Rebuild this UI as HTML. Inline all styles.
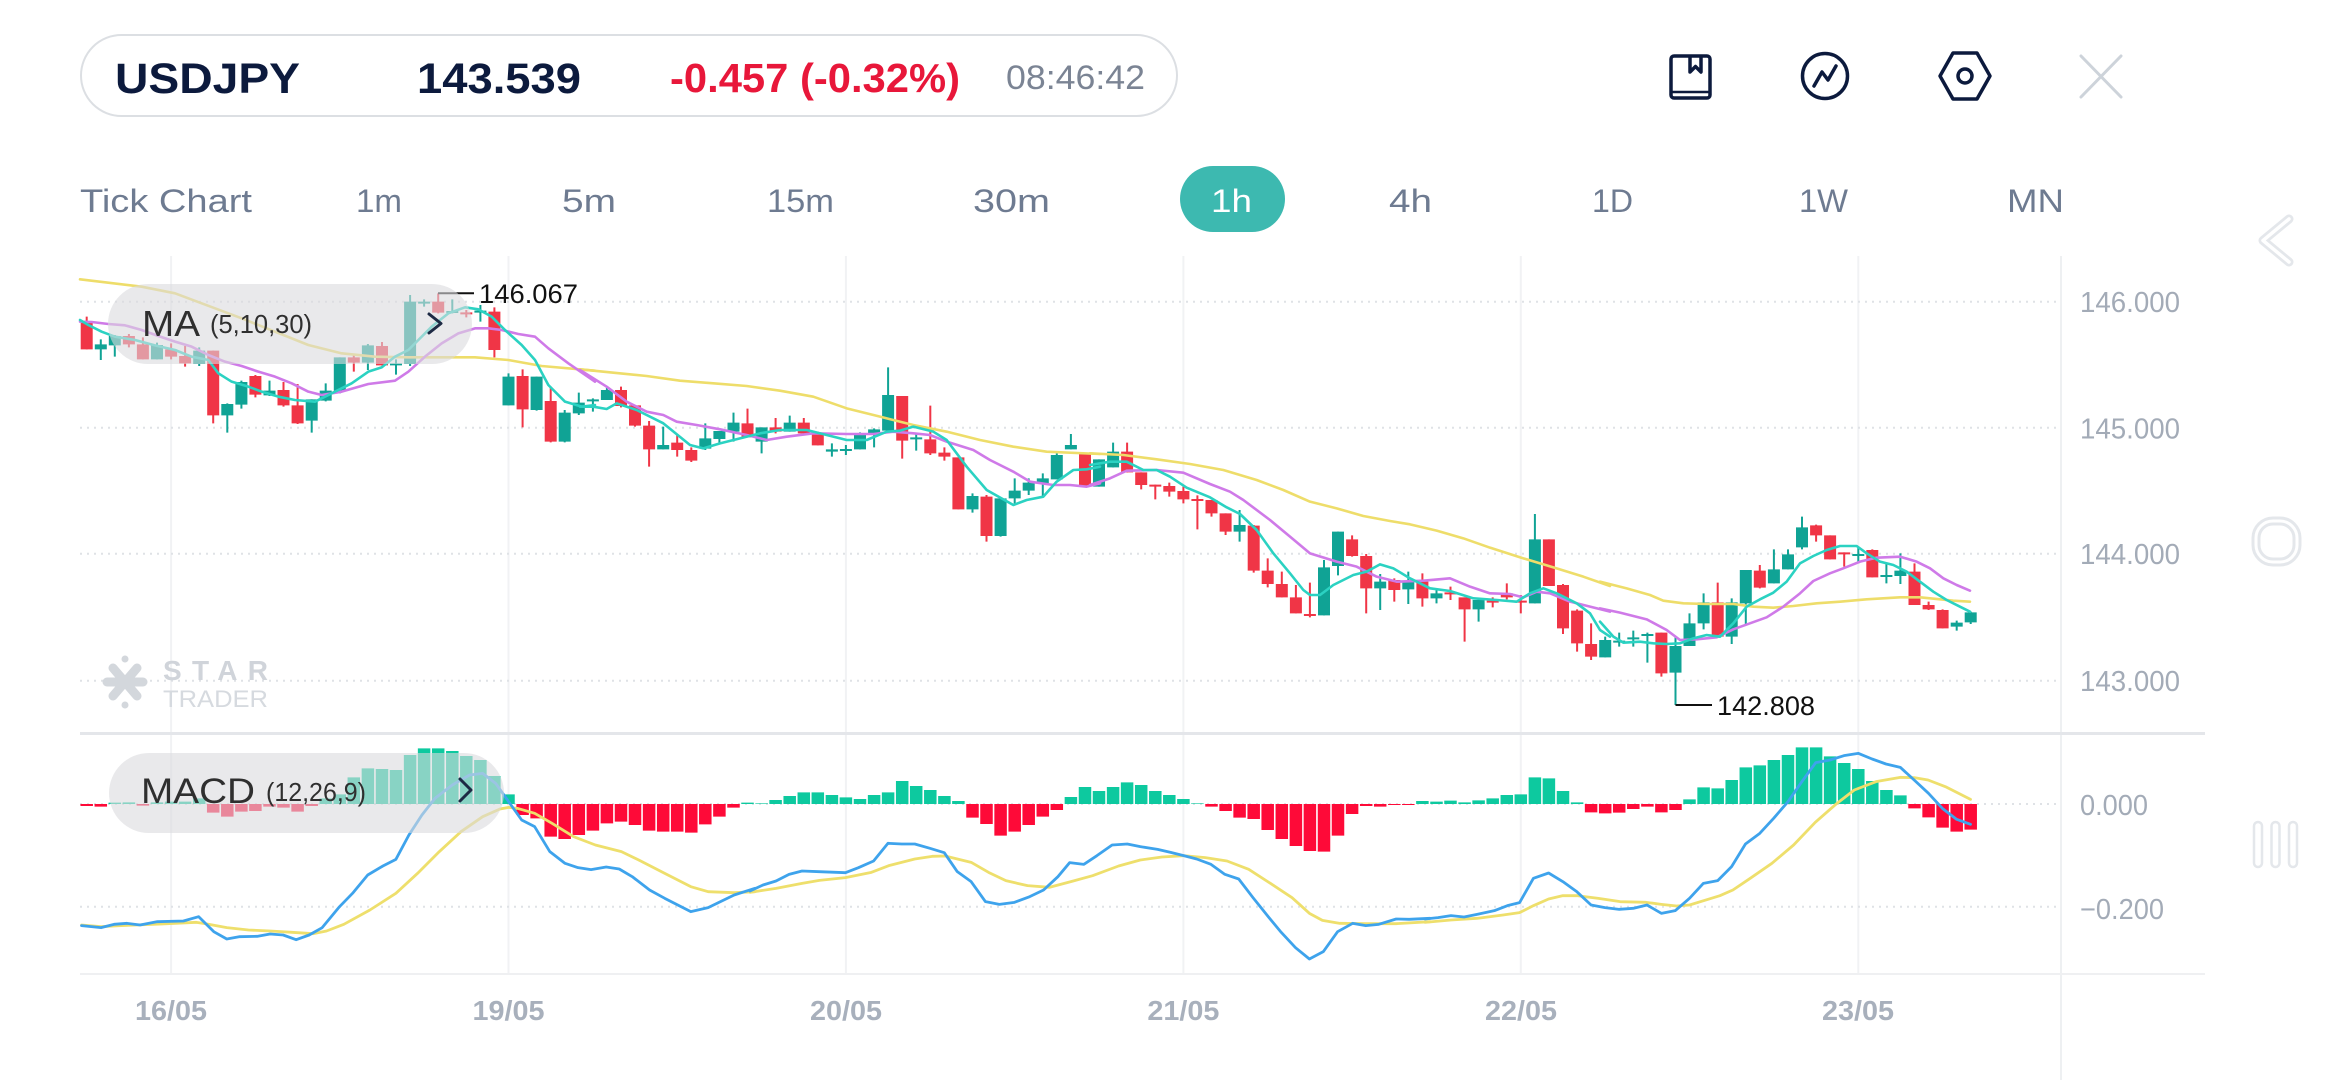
<!DOCTYPE html>
<html>
<head>
<meta charset="utf-8">
<style>
html,body{margin:0;padding:0;background:#fff;}
body{width:2340px;height:1080px;overflow:hidden;}
svg{display:block;font-family:"Liberation Sans",Arial,sans-serif;}
.ns{vector-effect:non-scaling-stroke;}
</style>
</head>
<body>
<svg width="2340" height="1080" viewBox="0 0 2340 1080" xmlns="http://www.w3.org/2000/svg">
<rect width="2340" height="1080" fill="#fff"/>

<!-- Header pill -->
<rect x="81" y="35" width="1096" height="81" rx="40.5" fill="#fff" stroke="#dcdfe3" stroke-width="2"/>
<text x="115" y="93" font-size="43" font-weight="bold" fill="#0c1a3d" textLength="185" lengthAdjust="spacingAndGlyphs">USDJPY</text>
<text x="417" y="93" font-size="43" font-weight="bold" fill="#0c1a3d" textLength="164" lengthAdjust="spacingAndGlyphs">143.539</text>
<text x="670" y="92" font-size="41" font-weight="bold" fill="#e8173a" textLength="290" lengthAdjust="spacingAndGlyphs">-0.457 (-0.32%)</text>
<text x="1006" y="89" font-size="34" fill="#7b8494" textLength="139" lengthAdjust="spacingAndGlyphs">08:46:42</text>

<!-- Top icons -->
<g fill="none" stroke="#0c1a3d" stroke-width="3.5" stroke-linejoin="round" stroke-linecap="round">
  <rect x="1671" y="56" width="39" height="42" rx="3"/>
  <path d="M1690 57V72L1695.5 66.5L1701 72V57"/>
  <line x1="1672" y1="92" x2="1709" y2="92" stroke-width="2.5"/>
  <circle cx="1825" cy="76" r="22.5"/>
  <path d="M1814 86L1822 72L1828 80L1836 66"/>
  <path d="M1940 76L1953 53H1977L1990 76L1977 99H1953Z"/>
  <circle cx="1965" cy="76" r="7"/>
</g>
<g stroke="#cdd3da" stroke-width="3" stroke-linecap="round">
  <line x1="2081" y1="56" x2="2121" y2="97"/>
  <line x1="2121" y1="56" x2="2081" y2="97"/>
</g>

<!-- Timeframe row -->
<g font-size="32.5" fill="#6e7b91">
  <text x="80" y="212" textLength="172" lengthAdjust="spacingAndGlyphs">Tick Chart</text>
  <text x="356" y="212" textLength="46" lengthAdjust="spacingAndGlyphs">1m</text>
  <text x="562" y="212" textLength="54" lengthAdjust="spacingAndGlyphs">5m</text>
  <text x="767" y="212" textLength="67" lengthAdjust="spacingAndGlyphs">15m</text>
  <text x="973" y="212" textLength="77" lengthAdjust="spacingAndGlyphs">30m</text>
  <rect x="1180" y="166" width="105" height="66" rx="33" fill="#3db9b0"/>
  <text x="1211" y="212" fill="#ffffff" textLength="41" lengthAdjust="spacingAndGlyphs">1h</text>
  <text x="1389" y="212" textLength="43" lengthAdjust="spacingAndGlyphs">4h</text>
  <text x="1592" y="212" textLength="41" lengthAdjust="spacingAndGlyphs">1D</text>
  <text x="1799" y="212" textLength="49" lengthAdjust="spacingAndGlyphs">1W</text>
  <text x="2007" y="212" textLength="57" lengthAdjust="spacingAndGlyphs">MN</text>
</g>

<!-- Right side faint icons -->
<g fill="none" stroke-linecap="round" stroke-linejoin="round">
  <path d="M2289 219L2263 240.5L2289 262" stroke="#e4e7eb" stroke-width="9"/>
  <path d="M2289 219L2263 240.5L2289 262" stroke="#fff" stroke-width="3.5"/>
  <rect x="2253" y="518" width="47" height="47" rx="20" stroke="#e4e7eb" stroke-width="3"/>
  <rect x="2259" y="524" width="35" height="35" rx="14" stroke="#e4e7eb" stroke-width="3"/>
  <rect x="2254" y="822" width="8" height="45" rx="4" stroke="#e4e7eb" stroke-width="2.5"/>
  <rect x="2271.5" y="822" width="8" height="45" rx="4" stroke="#e4e7eb" stroke-width="2.5"/>
  <rect x="2289" y="822" width="8" height="45" rx="4" stroke="#e4e7eb" stroke-width="2.5"/>
</g>

<!-- Grid -->
<g stroke="#f1f2f4" stroke-width="2">
  <line x1="171.1" y1="256" x2="171.1" y2="974"/>
  <line x1="508.5" y1="256" x2="508.5" y2="974"/>
  <line x1="845.9" y1="256" x2="845.9" y2="974"/>
  <line x1="1183.4" y1="256" x2="1183.4" y2="974"/>
  <line x1="1520.8" y1="256" x2="1520.8" y2="974"/>
  <line x1="1858.3" y1="256" x2="1858.3" y2="974"/>
</g>
<line x1="2061" y1="256" x2="2061" y2="1080" stroke="#eef0f2" stroke-width="2"/>
<g stroke="#dfe2e6" stroke-width="2" stroke-dasharray="2 5">
  <line x1="80" y1="301.7" x2="2060" y2="301.7"/>
  <line x1="80" y1="427.7" x2="2060" y2="427.7"/>
  <line x1="80" y1="553.7" x2="2060" y2="553.7"/>
  <line x1="80" y1="680.7" x2="2060" y2="680.7"/>
  <line x1="80" y1="804" x2="2060" y2="804"/>
  <line x1="80" y1="906.7" x2="2060" y2="906.7"/>
</g>
<line x1="80" y1="733.5" x2="2205" y2="733.5" stroke="#e4e6ea" stroke-width="3"/>
<line x1="80" y1="974" x2="2205" y2="974" stroke="#eff0f2" stroke-width="2"/>

<!-- Y labels -->
<g font-size="29" fill="#a3abb7">
  <text x="2080" y="312" textLength="100" lengthAdjust="spacingAndGlyphs">146.000</text>
  <text x="2080" y="438.5" textLength="100" lengthAdjust="spacingAndGlyphs">145.000</text>
  <text x="2080" y="564" textLength="100" lengthAdjust="spacingAndGlyphs">144.000</text>
  <text x="2080" y="691" textLength="100" lengthAdjust="spacingAndGlyphs">143.000</text>
  <text x="2080" y="815" textLength="68" lengthAdjust="spacingAndGlyphs">0.000</text>
  <text x="2080" y="919" textLength="84" lengthAdjust="spacingAndGlyphs">−0.200</text>
</g>

<!-- X labels -->
<g font-size="28" font-weight="bold" fill="#a8b0bc" text-anchor="middle">
  <text x="171" y="1020" textLength="72" lengthAdjust="spacingAndGlyphs">16/05</text>
  <text x="508.5" y="1020" textLength="72" lengthAdjust="spacingAndGlyphs">19/05</text>
  <text x="846" y="1020" textLength="72" lengthAdjust="spacingAndGlyphs">20/05</text>
  <text x="1183.4" y="1020" textLength="72" lengthAdjust="spacingAndGlyphs">21/05</text>
  <text x="1521" y="1020" textLength="72" lengthAdjust="spacingAndGlyphs">22/05</text>
  <text x="1858" y="1020" textLength="72" lengthAdjust="spacingAndGlyphs">23/05</text>
</g>

<!-- Watermark -->
<g stroke="#d3d7dc" stroke-width="9" stroke-linecap="round">
  <line x1="107" y1="682" x2="143" y2="682"/>
  <line x1="113" y1="668" x2="137" y2="696"/>
  <line x1="137" y1="668" x2="113" y2="696"/>
</g>
<circle cx="125" cy="659" r="3.5" fill="#d3d7dc"/>
<circle cx="125" cy="705" r="3.5" fill="#d3d7dc"/>
<text x="163" y="680" font-size="28" font-weight="bold" fill="#d0d4da" textLength="105" lengthAdjust="spacing">STAR</text>
<text x="163" y="707" font-size="24" fill="#d6dadf" textLength="105" lengthAdjust="spacingAndGlyphs">TRADER</text>

<!-- Candles -->
<g transform="translate(86.7,260) scale(1,0.333333)" fill="none">
  <path class="ns" stroke="#f03546" stroke-width="2" d="M0 170V268M42.2 222V262M56.2 232V298M84.4 250V298M98.4 258V320M126.5 272V490M168.7 345V412M196.8 366V440M210.9 372V492M267.1 282V335M295.3 246V316M351.5 100V160M379.6 150V172M407.7 142V292M435.9 328V502M464 380V547M534.3 380V442M548.3 436V500M562.4 483V620M590.5 525V590M604.6 562V606M660.8 446V532M688.9 474V520M717.1 474V520M731.1 515V556M815.5 408V596M843.6 437V585M857.7 562V602M871.7 592V748M899.8 705V845M998.3 578V682M1040.4 548V637M1054.5 637V688M1068.6 674V718M1082.6 668V710M1096.7 680V730M1110.7 706V808M1124.8 720V770M1138.9 760V825M1167 795V938M1181 895V982M1195.1 935V1012M1209.2 975V1060M1223.2 968V1072M1265.4 826V890M1279.5 882V1060M1307.6 955V1025M1335.7 940V1040M1363.8 980V1020M1377.9 1012V1145M1406 1012V1042M1420.1 970V1018M1434.1 1005V1060M1462.2 838V978M1476.3 972V1122M1490.4 1048V1175M1504.4 1090V1200M1574.7 1118V1250M1631 968V1130M1673.1 915V985M1729.4 794V845M1743.4 826V898M1757.5 877V920M1785.6 868V952M1827.8 910V1035M1841.9 1025V1050M1855.9 1048V1105"/>
  <path class="ns" stroke="#f03546" stroke-width="12" d="M0 185V268M42.2 228V253M56.2 253V298M84.4 268V290M98.4 288V310M126.5 272V466M168.7 348V404M196.8 390V436M210.9 436V490M267.1 292V308M295.3 258V316M351.5 125V158M379.6 157V163M407.7 155V270M435.9 348V448M464 423V545M534.3 390V438M548.3 436V497M562.4 497V568M590.5 548V570M604.6 570V602M660.8 490V532M688.9 502V515M717.1 488V520M731.1 518V556M815.5 408V542M843.6 538V580M857.7 578V590M871.7 592V748M899.8 710V828M998.3 578V680M1040.4 575V637M1054.5 637V675M1068.6 674V680M1082.6 678V695M1096.7 693V718M1110.7 717V723M1124.8 720V760M1138.9 760V815M1167 797V932M1181 932V972M1195.1 972V1012M1209.2 1012V1060M1223.2 1062V1068M1265.4 838V888M1279.5 888V985M1307.6 960V990M1335.7 965V1015M1363.8 997V1003M1377.9 1012V1048M1406 1022V1028M1420.1 1000V1012M1434.1 1022V1028M1462.2 838V978M1476.3 975V1105M1490.4 1052V1150M1504.4 1152V1190M1574.7 1118V1240M1631 1027V1130M1673.1 932V983M1729.4 796V826M1743.4 826V898M1757.5 877V883M1785.6 870V952M1827.8 935V1035M1841.9 1035V1048M1855.9 1050V1105"/>
  <path class="ns" stroke="#10a395" stroke-width="2" d="M14.1 238V300M28.1 225V290M70.3 248V298M112.5 262V318M140.6 430V518M154.7 362V446M182.8 362V408M225 418V518M239 370V424M253.1 292V400M281.2 252V330M309.3 298V344M323.4 105V318M337.4 118V140M365.6 118V160M393.7 135V185M421.8 340V436M449.9 350V452M478 450V547M492.1 398V465M506.2 415V455M520.2 378V420M576.5 500V568M618.6 490V570M632.7 513V552M646.8 458V545M674.9 502V580M703 467V515M745.2 550V590M759.2 555V585M773.3 517V568M787.4 505V562M801.4 322V512M829.5 520V572M885.8 700V758M913.9 715V830M928 655V735M942 655V705M956.1 640V708M970.1 580V658M984.2 522V568M1012.3 598V680M1026.4 548V622M1152.9 750V845M1237.3 900V1066M1251.3 815V946M1293.5 942V1050M1321.6 935V1032M1349.8 985V1030M1391.9 1015V1085M1448.2 762V1030M1518.5 1130V1192M1532.5 1118V1160M1546.6 1112V1160M1560.7 1118V1208M1588.8 1132V1335M1602.8 1060V1158M1616.9 1000V1108M1645 1015V1152M1659.1 930V1095M1687.2 868V970M1701.3 868V928M1715.3 770V868M1771.6 860V910M1799.7 912V970M1813.7 880V972M1870 1082V1112M1884 1055V1092"/>
  <path class="ns" stroke="#10a395" stroke-width="12" d="M14.1 253V268M28.1 228V256M70.3 255V298M112.5 272V312M140.6 432V466M154.7 366V434M182.8 392V406M225 418V482M239 392V422M253.1 292V392M281.2 256V308M309.3 310V316M323.4 125V312M337.4 125V131M365.6 153V159M393.7 152V158M421.8 350V436M449.9 350V450M478 458V545M492.1 428V460M506.2 418V424M520.2 390V420M576.5 555V568M618.6 535V566M632.7 513V537M646.8 488V515M674.9 502V545M703 488V515M745.2 568V575M759.2 567V573M773.3 522V568M787.4 508V525M801.4 405V512M829.5 532V538M885.8 708V748M913.9 715V828M928 692V715M942 668V692M956.1 655V670M970.1 585V658M984.2 555V568M1012.3 598V680M1026.4 575V622M1152.9 795V815M1237.3 922V1066M1251.3 815V918M1293.5 965V985M1321.6 965V988M1349.8 1000V1015M1391.9 1020V1048M1448.2 838V1030M1518.5 1140V1192M1532.5 1142V1148M1546.6 1132V1138M1560.7 1122V1128M1588.8 1158V1238M1602.8 1090V1158M1616.9 1027V1090M1645 1027V1130M1659.1 930V1030M1687.2 928V970M1701.3 883V928M1715.3 802V862M1771.6 882V888M1799.7 945V951M1813.7 932V948M1870 1088V1100M1884 1057V1087"/>
</g>

<!-- MA lines -->
<g fill="none" stroke-linejoin="round" stroke-linecap="round">
  <g transform="translate(75,260) scale(0.333333)">
    <polyline class="ns" stroke="#eedd6a" stroke-width="2.6" points="15,58 200,80 300,100 380,130 500,175 600,215 700,255 800,280 900,290 1000,292 1100,292 1200,292 1300,300 1400,318 1560,332"/>
    <polyline class="ns" stroke="#cf7ae8" stroke-width="2.6" points="15,185 50,186 100,192 150,196 200,210 250,228 300,245 350,260 400,285 450,305 500,318 550,335 600,350 650,370 700,395 740,405 800,395 880,372 960,362 1000,335 1050,290 1100,250 1150,220 1200,205 1240,205 1280,210 1330,222 1380,230 1420,265 1480,310 1560,365"/>
    <polyline class="ns" stroke="#2bd2c2" stroke-width="2.6" points="15,180 40,195 80,215 120,230 180,240 240,256 300,270 350,290 400,300 430,340 470,365 520,380 560,395 610,410 660,420 720,425 770,400 830,370 880,335 920,322 960,290 1000,270 1030,240 1070,200 1120,160 1170,142 1210,148 1250,170 1290,210 1340,255 1380,300 1420,375 1470,425 1520,440 1560,435"/>
  </g>
  <g transform="translate(580,260) scale(0.333333)">
    <polyline class="ns" stroke="#eedd6a" stroke-width="2.6" points="0,328 100,338 200,348 300,362 400,370 500,378 600,392 700,410 800,445 900,470 1000,495 1100,515 1200,540 1300,560 1400,575 1560,582"/>
    <polyline class="ns" stroke="#cf7ae8" stroke-width="2.6" points="0,330 80,380 140,425 200,455 250,465 290,485 350,495 420,508 500,525 560,540 620,530 700,520 800,522 880,522 940,515 1000,520 1050,525 1100,545 1180,570 1230,600 1300,635 1350,665 1420,675 1470,675 1520,680 1560,670"/>
    <polyline class="ns" stroke="#2bd2c2" stroke-width="2.6" points="0,440 40,440 80,447 110,430 170,450 250,490 330,555 370,565 420,550 480,535 540,520 600,510 680,510 740,525 800,540 860,540 920,515 960,512 1000,500 1060,515 1100,540 1160,620 1220,690 1300,735 1340,720 1390,710 1430,665 1480,630 1520,628 1560,620"/>
  </g>
  <g transform="translate(1090,260) scale(0.333333)">
    <polyline class="ns" stroke="#eedd6a" stroke-width="2.6" points="0,580 100,585 200,598 300,612 400,630 500,660 580,690 660,725 740,745 820,768 900,783 960,793 1040,812 1120,835 1200,863 1300,895 1400,925 1480,950 1560,978"/>
    <polyline class="ns" stroke="#cf7ae8" stroke-width="2.6" points="0,675 60,655 110,632 200,630 280,638 360,672 420,695 460,720 540,780 600,830 660,880 740,905 800,920 860,950 920,965 1000,962 1080,955 1140,980 1200,1000 1260,1002 1300,1012 1340,995 1380,1000 1440,1025 1500,1040 1560,1055"/>
    <polyline class="ns" stroke="#2bd2c2" stroke-width="2.6" points="0,615 60,605 110,605 160,630 200,630 240,650 290,683 360,712 410,742 450,762 500,810 550,880 600,940 640,990 660,1005 690,1005 730,975 790,945 830,935 870,913 910,925 960,955 1020,985 1080,993 1150,1015 1220,1020 1280,1025 1320,1000 1360,985 1400,1000 1460,1030 1500,1060 1530,1110 1560,1130"/>
  </g>
  <g transform="translate(1600,260) scale(0.333333)">
    <polyline class="ns" stroke="#eedd6a" stroke-width="2.6" points="0,965 80,985 150,1005 190,1022 250,1030 320,1032 400,1032 460,1040 520,1043 580,1038 650,1030 720,1025 800,1018 900,1012 960,1012 1020,1018 1060,1022 1110,1025"/>
    <polyline class="ns" stroke="#cf7ae8" stroke-width="2.6" points="0,1045 60,1058 140,1078 200,1110 240,1140 290,1138 350,1132 400,1108 450,1090 500,1072 550,1040 600,1000 640,963 690,940 730,925 780,905 830,893 900,890 950,905 990,925 1030,955 1070,975 1110,992"/>
    <polyline class="ns" stroke="#2bd2c2" stroke-width="2.6" points="0,1085 40,1130 70,1148 120,1145 160,1150 200,1152 240,1150 280,1135 320,1125 360,1130 400,1090 440,1040 480,1018 520,998 560,965 600,910 640,888 680,870 720,858 770,858 800,880 840,905 880,915 920,935 960,965 1000,995 1040,1020 1080,1040 1110,1055"/>
  </g>
</g>

<!-- High / Low markers -->
<line x1="438" y1="293.3" x2="474" y2="293.3" stroke="#111" stroke-width="2"/>
<text x="479" y="303" font-size="27" fill="#111" textLength="99" lengthAdjust="spacingAndGlyphs">146.067</text>
<line x1="1675.5" y1="705" x2="1712" y2="705" stroke="#111" stroke-width="2"/>
<text x="1717" y="715" font-size="27" fill="#111" textLength="98" lengthAdjust="spacingAndGlyphs">142.808</text>

<!-- MACD histogram -->
<g transform="translate(86.7,735) scale(1,0.333333)" fill="none">
  <path class="ns" stroke="#0dc99f" stroke-width="12.5" d="M28.1 207V203M42.2 207V202M70.3 207V202M84.4 207V200M98.4 207V200M112.5 207V190M239 207V190M253.1 207V178M267.1 207V127M281.2 207V100M295.3 207V102M309.3 207V105M323.4 207V60M337.4 207V40M351.5 207V40M365.6 207V48M379.6 207V63M393.7 207V75M407.7 207V123M421.8 207V178M660.8 207V203M674.9 207V205M688.9 207V195M703 207V183M717.1 207V172M731.1 207V172M745.2 207V180M759.2 207V187M773.3 207V192M787.4 207V180M801.4 207V172M815.5 207V138M829.5 207V153M843.6 207V165M857.7 207V183M871.7 207V198M984.2 207V186M998.3 207V156M1012.3 207V168M1026.4 207V156M1040.4 207V142M1054.5 207V150M1068.6 207V168M1082.6 207V180M1096.7 207V192M1110.7 207V205M1335.7 207V198M1349.8 207V200M1363.8 207V197M1377.9 207V202M1391.9 207V196M1406 207V190M1420.1 207V180M1434.1 207V178M1448.2 207V127M1462.2 207V130M1476.3 207V168M1490.4 207V202M1602.8 207V193M1616.9 207V157M1631 207V160M1645 207V135M1659.1 207V97M1673.1 207V91M1687.2 207V75M1701.3 207V60M1715.3 207V37M1729.4 207V37M1743.4 207V64M1757.5 207V84M1771.6 207V102M1785.6 207V138M1799.7 207V165M1813.7 207V181"/>
  <path class="ns" stroke="#fe0a38" stroke-width="12.5" d="M0 207V213M14.1 207V215M56.2 207V212M126.5 207V233M140.6 207V245M154.7 207V230M168.7 207V228M182.8 207V215M196.8 207V218M210.9 207V230M225 207V213M435.9 207V240M449.9 207V250M464 207V305M478 207V312M492.1 207V300M506.2 207V287M520.2 207V265M534.3 207V260M548.3 207V270M562.4 207V287M576.5 207V290M590.5 207V290M604.6 207V293M618.6 207V268M632.7 207V245M646.8 207V218M885.8 207V248M899.8 207V267M913.9 207V302M928 207V290M942 207V270M956.1 207V245M970.1 207V225M1124.8 207V215M1138.9 207V228M1152.9 207V248M1167 207V252M1181 207V285M1195.1 207V312M1209.2 207V333M1223.2 207V348M1237.3 207V350M1251.3 207V302M1265.4 207V237M1279.5 207V213M1293.5 207V215M1307.6 207V210M1321.6 207V210M1504.4 207V232M1518.5 207V235M1532.5 207V233M1546.6 207V222M1560.7 207V215M1574.7 207V232M1588.8 207V225M1827.8 207V220M1841.9 207V247M1855.9 207V278M1870 207V290M1884 207V284"/>
</g>

<!-- MACD lines -->
<g fill="none" stroke-linejoin="round" stroke-linecap="round">
  <g transform="translate(75,735) scale(0.43365,0.333333)">
    <polyline class="ns" stroke="#eedf6c" stroke-width="2.8" points="15,570 60,575 100,572 200,567 280,562 300,566 350,578 400,585 450,588 500,592 550,596 580,588 620,568 680,525 740,475 790,415 840,350 890,290 940,245 980,222 1000,217 1020,220 1060,235 1100,265 1150,305 1200,330 1260,350 1300,375 1360,415 1420,455 1460,470 1520,473 1568,470"/>
    <polyline class="ns" stroke="#3ea3ec" stroke-width="2.8" points="15,572 60,578 90,568 120,565 150,570 190,560 250,558 285,545 320,590 350,612 380,605 420,604 450,597 480,600 510,614 540,600 570,578 610,515 640,475 675,420 710,393 740,373 770,300 800,240 830,190 870,150 910,120 940,115 970,145 1000,200 1030,255 1060,275 1095,350 1130,385 1160,398 1190,404 1225,396 1255,402 1285,425 1325,465 1360,490 1420,530 1460,518 1520,480 1568,460"/>
  </g>
  <g transform="translate(750,735) scale(0.43365,0.333333)">
    <polyline class="ns" stroke="#eedf6c" stroke-width="2.8" points="0,472 60,460 120,445 160,436 220,428 280,412 320,392 380,372 420,364 450,363 510,382 550,412 590,437 640,452 690,457 740,440 790,422 850,393 900,375 950,366 1000,362 1050,368 1100,378 1150,403 1200,445 1250,488 1290,535 1320,556 1360,565 1420,566 1490,566 1568,560"/>
    <polyline class="ns" stroke="#3ea3ec" stroke-width="2.8" points="0,468 30,450 60,438 90,418 120,408 160,410 220,413 250,398 285,378 318,325 350,327 380,327 415,340 448,353 478,410 510,440 543,500 575,508 610,502 645,485 677,465 710,425 737,383 770,388 800,362 835,330 870,327 900,335 940,343 970,352 1000,362 1030,372 1063,388 1095,418 1127,432 1160,488 1195,545 1225,592 1258,638 1290,672 1322,650 1355,590 1390,565 1420,572 1450,568 1490,552 1520,553 1568,550"/>
  </g>
  <g transform="translate(1425,735) scale(0.43365,0.333333)">
    <polyline class="ns" stroke="#eedf6c" stroke-width="2.8" points="0,562 60,555 120,550 180,540 218,533 250,512 285,492 318,482 350,482 400,490 450,500 510,502 545,508 580,513 610,510 650,494 680,482 710,465 750,430 800,385 850,330 900,262 950,205 990,165 1040,140 1096,127 1128,128 1160,135 1200,155 1258,193"/>
    <polyline class="ns" stroke="#3ea3ec" stroke-width="2.8" points="0,552 30,548 60,542 90,546 120,538 160,527 190,512 218,503 250,430 285,414 318,440 350,470 383,510 415,518 448,523 480,520 512,510 545,535 577,527 610,490 642,445 675,437 707,395 739,327 772,295 804,250 837,200 869,140 901,83 934,75 966,62 999,55 1031,72 1063,87 1096,97 1128,135 1161,175 1193,220 1226,253 1258,268"/>
  </g>
</g>

<!-- MA legend pill -->
<rect x="108" y="284" width="364" height="80" rx="40" fill="rgba(218,219,222,0.6)"/>
<text x="142" y="336" font-size="36" fill="#2f2f2f" textLength="58" lengthAdjust="spacingAndGlyphs">MA</text>
<text x="210" y="333" font-size="26" fill="#2f2f2f" textLength="102" lengthAdjust="spacingAndGlyphs">(5,10,30)</text>
<path d="M429 314L441 323.5L429 333" fill="none" stroke="#1d2a44" stroke-width="3" stroke-linecap="round" stroke-linejoin="round"/>

<!-- MACD legend pill -->
<rect x="109" y="753" width="395" height="80" rx="40" fill="rgba(218,219,222,0.6)"/>
<text x="141" y="803" font-size="35" fill="#2f2f2f" textLength="114" lengthAdjust="spacingAndGlyphs">MACD</text>
<text x="266" y="801" font-size="26" fill="#2f2f2f" textLength="100" lengthAdjust="spacingAndGlyphs">(12,26,9)</text>
<path d="M460 779L471 790L460 801" fill="none" stroke="#1d2a44" stroke-width="3" stroke-linecap="round" stroke-linejoin="round"/>
</svg>
</body>
</html>
